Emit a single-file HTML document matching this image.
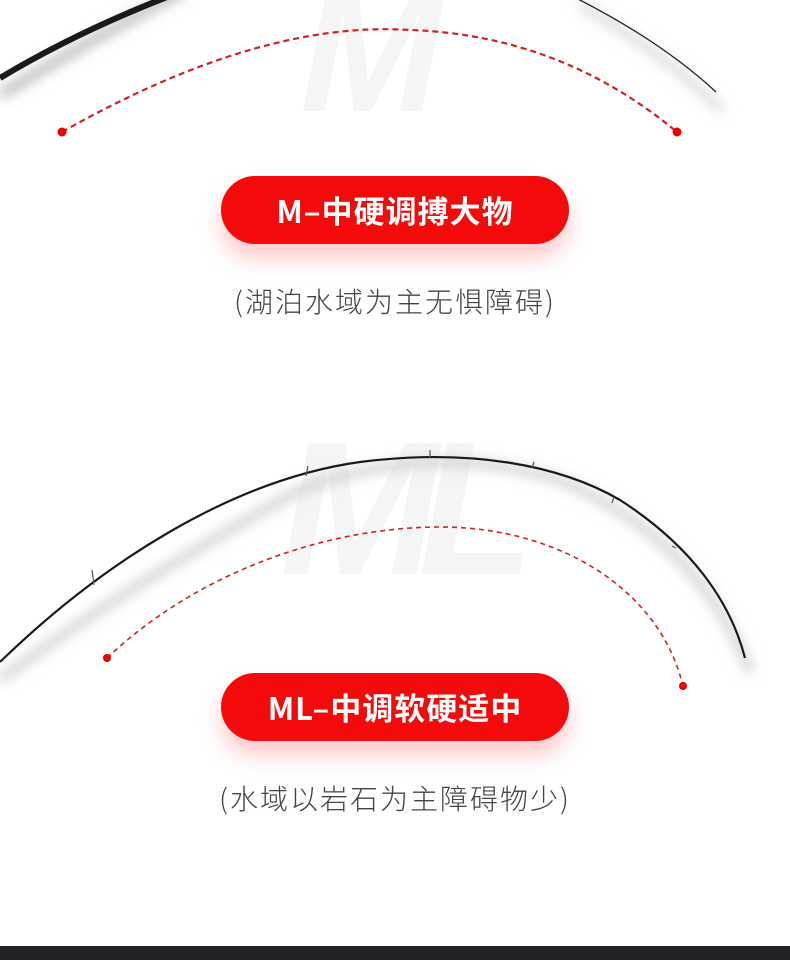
<!DOCTYPE html>
<html><head><meta charset="utf-8"><style>
html,body{margin:0;padding:0;background:#fff;}
body{width:790px;height:960px;position:relative;overflow:hidden;font-family:"Liberation Sans","Noto Sans CJK SC",sans-serif;}
.pill{position:absolute;left:221px;width:348px;height:68px;border-radius:34px;background:#f40a0a;color:#fff;font-weight:bold;font-size:31px;letter-spacing:1px;line-height:68px;text-align:center;box-shadow:0 14px 22px rgba(255,60,60,0.28);font-family:"Noto Sans CJK SC",sans-serif;}
.sub{position:absolute;left:0;width:790px;text-align:center;color:#444;font-size:28px;letter-spacing:2px;font-family:"Noto Sans CJK SC",sans-serif;font-weight:300;}
.wm{position:absolute;font-family:"Liberation Sans",sans-serif;font-weight:bold;font-style:italic;color:#f5f5f5;}
</style></head><body>
<div class="wm" style="left:300px;top:-45px;font-size:170px;">M</div>
<div class="wm" style="left:280px;top:400px;font-size:190px;letter-spacing:-20px;">ML</div>
<svg width="790" height="960" style="position:absolute;left:0;top:0">
<defs><filter id="b" x="-20%" y="-20%" width="140%" height="140%"><feGaussianBlur stdDeviation="6"/></filter></defs>
<path d="M0,95 Q90,40 185,-10" stroke="#bbb" stroke-width="10" fill="none" filter="url(#b)"/>
<path d="M580,5 Q660,50 722,110" stroke="#ccc" stroke-width="6" fill="none" filter="url(#b)"/>
<path d="M0,78 Q80,30 180,-8" stroke="#1a1a1a" stroke-width="6" fill="none"/>
<path d="M570,-5 Q660,40 716,92" stroke="#222" stroke-width="1.3" fill="none"/>
<path d="M62,132 Q260,20 410,30 Q560,35 677,132" stroke="#d32020" stroke-width="2.2" stroke-dasharray="6,4" fill="none"/>
<circle cx="62" cy="132" r="4.5" fill="#e00"/>
<circle cx="677" cy="132" r="4.5" fill="#e00"/>
<path d="M0,680 Q120,590 300,490 Q430,440 560,480 Q700,540 750,672" stroke="#ccc" stroke-width="8" fill="none" filter="url(#b)"/>
<path d="M0,662 C100,565 230,480 360,462 C470,448 560,465 620,500 C690,545 730,600 745,658" stroke="#1a1a1a" stroke-width="2.2" fill="none"/>
<g stroke="#555" stroke-width="1.2">
<line x1="92" y1="570" x2="94" y2="585"/><line x1="308" y1="466" x2="306" y2="476"/><line x1="430" y1="450" x2="430" y2="458"/><line x1="534" y1="462" x2="532" y2="468"/><line x1="614" y1="497" x2="612" y2="503"/><line x1="672" y1="546" x2="676" y2="548"/>
</g>
<path d="M107,658 C200,570 330,527 440,527 C560,527 660,590 683,686" stroke="#d32020" stroke-width="1.6" stroke-dasharray="5,4" fill="none"/>
<circle cx="107" cy="658" r="4" fill="#e00"/>
<circle cx="683" cy="686" r="4" fill="#e00"/>
<rect x="0" y="946" width="790" height="14" fill="#202226"/>
</svg>
<div class="pill" style="top:176px;">M–中硬调搏大物</div>
<div class="sub" style="top:281px;">(湖泊水域为主无惧障碍)</div>
<div class="pill" style="top:673px;">ML–中调软硬适中</div>
<div class="sub" style="top:778px;">(水域以岩石为主障碍物少)</div>
</body></html>
